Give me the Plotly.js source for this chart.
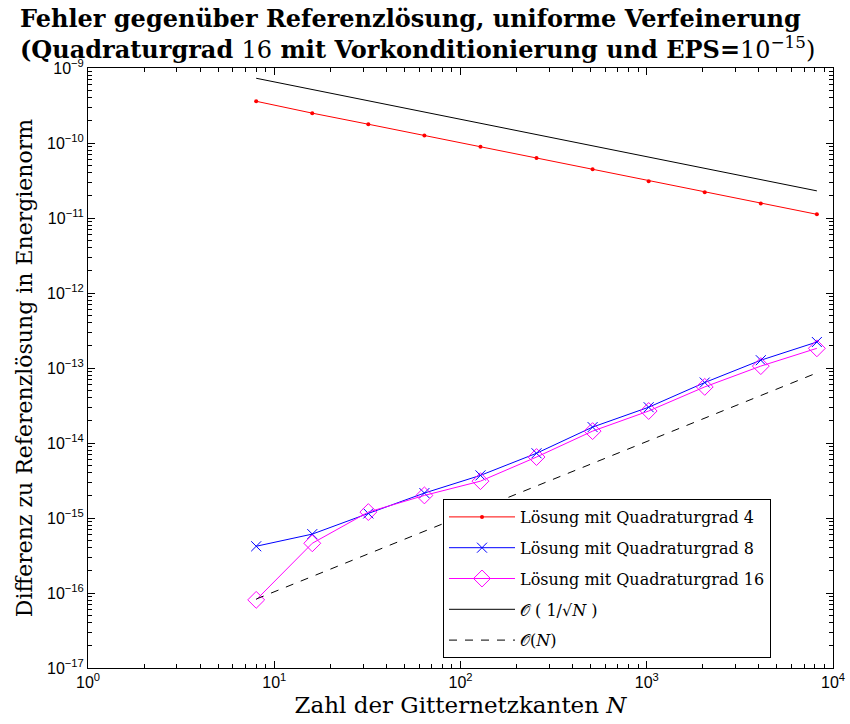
<!DOCTYPE html>
<html>
<head>
<meta charset="utf-8">
<script src="https://cdn.plot.ly/plotly-3.0.1.min.js"></script>
<style>html,body{margin:0;padding:0;background:#fff;}</style>
</head>
<body>
<div id="chart" style="width:850px;height:724px;"></div>
<script>
// Zahl der Gitternetzkanten N
const N = [8, 16, 32, 64, 128, 256, 512, 1024, 2048, 4096, 8192];
// Fehler, Quadraturgrad 4
const errQ4 = [3.6e-10, 2.5e-10, 1.78e-10, 1.26e-10, 8.9e-11, 6.3e-11, 4.45e-11, 3.1e-11, 2.2e-11, 1.56e-11, 1.12e-11];
// Fehler, Quadraturgrad 8
const errQ8 = [4.2e-16, 6.1e-16, 1.15e-15, 2.15e-15, 3.7e-15, 7.3e-15, 1.63e-14, 3.0e-14, 6.4e-14, 1.27e-13, 2.22e-13];
// Fehler, Quadraturgrad 16
const errQ16 = [8.1e-17, 4.6e-16, 1.2e-15, 2.0e-15, 3.1e-15, 6.5e-15, 1.44e-14, 2.67e-14, 5.6e-14, 1.06e-13, 1.83e-13];
// Referenzgeraden
const refN = [8, 8192];
const refSqrt = [7.3e-10, 2.3e-11];
const refLin = [8.3e-17, 8.6e-14];

// Achsenbeschriftungen
const xTickVals = [1, 10, 100, 1000, 10000];
const xTickText = ["10<sup>0</sup>", "10<sup>1</sup>", "10<sup>2</sup>", "10<sup>3</sup>", "10<sup>4</sup>"];
const yTickVals = [1e-17, 1e-16, 1e-15, 1e-14, 1e-13, 1e-12, 1e-11, 1e-10, 1e-9];
const yTickText = ["10<sup>−17</sup>", "10<sup>−16</sup>", "10<sup>−15</sup>", "10<sup>−14</sup>", "10<sup>−13</sup>", "10<sup>−12</sup>", "10<sup>−11</sup>", "10<sup>−10</sup>", "10<sup>−9</sup>"];

const names = [
  "Lösung mit Quadraturgrad 4",
  "Lösung mit Quadraturgrad 8",
  "Lösung mit Quadraturgrad 16",
  "𝒪 ( 1/√<i>N</i> )",
  "𝒪(<i>N</i>)"
];

const serif = "DejaVu Serif";
const sans = "Liberation Sans";

const traces = [
  {x: N, y: errQ4, name: names[0], legendgroup: "a", mode: "lines+markers",
   line: {color: "#ff0000", width: 1}, marker: {symbol: "circle", size: 4, color: "#ff0000"}},
  {x: N, y: errQ8, name: names[1], legendgroup: "b", mode: "lines+markers",
   line: {color: "#0000ff", width: 1}, marker: {symbol: "x-thin-open", size: 10, color: "#0000ff", line: {color: "#0000ff", width: 1}}},
  {x: N, y: errQ16, name: names[2], legendgroup: "c", mode: "lines+markers",
   line: {color: "#ff00ff", width: 1}, marker: {symbol: "diamond-open", size: 13, color: "#ff00ff", line: {color: "#ff00ff", width: 1}}},
  {x: refN, y: refSqrt, name: names[3], legendgroup: "d", mode: "lines",
   line: {color: "#000000", width: 1}},
  {x: refN, y: refLin, name: names[4], legendgroup: "e", mode: "lines",
   line: {color: "#000000", width: 1, dash: "8px,8px"}}
];

const axisCommon = {
  type: "log",
  showgrid: false,
  zeroline: false,
  showline: true,
  linecolor: "#000",
  linewidth: 1,
  mirror: "ticks",
  ticks: "inside",
  ticklen: 7,
  tickcolor: "#000",
  tickmode: "array",
  tickfont: {family: sans, size: 16, color: "#000"},
  minor: {ticks: "inside", ticklen: 4, tickcolor: "#000", showgrid: false, dtick: "D1"}
};

const layout = {
  width: 850, height: 724,
  paper_bgcolor: "#fff", plot_bgcolor: "#fff",
  margin: {l: 88, r: 17, t: 68, b: 56},
  title: {
    text: "<b>Fehler gegenüber Referenzlösung, uniforme Verfeinerung</b><br><b>(Quadraturgrad </b>16<b> mit Vorkonditionierung und EPS=</b>10<sup>−15</sup>)",
    x: 20/850, xanchor: "left", xref: "container",
    y: 1 - 27/724, yanchor: "top", yref: "container",
    font: {family: serif, size: 24, color: "#000"}
  },
  xaxis: Object.assign({}, axisCommon, {
    range: [0, 4],
    tickvals: xTickVals, ticktext: xTickText,
    title: {text: "Zahl der Gitternetzkanten <i>N</i>", font: {family: serif, size: 23, color: "#000"}, standoff: 6}
  }),
  yaxis: Object.assign({}, axisCommon, {
    range: [-17, -9],
    tickvals: yTickVals, ticktext: yTickText,
    title: {text: "Differenz zu Referenzlösung in Energienorm", font: {family: serif, size: 22, color: "#000"}, standoff: 8}
  }),
  showlegend: true,
  legend: {
    x: (443-88)/745, xanchor: "left",
    y: (668-499)/600, yanchor: "top",
    bgcolor: "#fff", bordercolor: "#000", borderwidth: 1,
    font: {family: serif, size: 16, color: "#000"},
    tracegroupgap: 7,
    itemwidth: 66
  }
};

Plotly.newPlot("chart", traces, layout, {displayModeBar: false, staticPlot: true});
</script>
</body>
</html>
